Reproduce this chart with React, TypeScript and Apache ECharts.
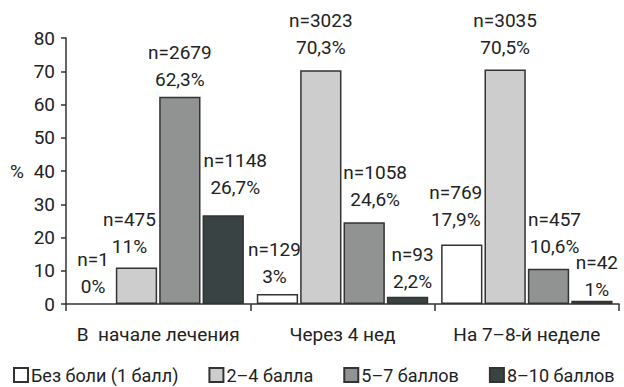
import React, { useEffect, useRef } from "react";
import * as echarts from "echarts";

const categories = ["В  начале лечения", "Через 4 нед", "На 7–8-й неделе"];
const seriesNames = ["Без боли (1 балл)", "2–4 балла", "5–7 баллов", "8–10 баллов"];
const percentValues = [
  [0, 3, 17.9],
  [11, 70.3, 70.5],
  [62.3, 24.6, 10.6],
  [26.7, 2.2, 1],
];
const countValues = [
  [1, 129, 769],
  [475, 3023, 3035],
  [2679, 1058, 457],
  [1148, 93, 42],
];
const percentLabels = [
  ["0%", "3%", "17,9%"],
  ["11%", "70,3%", "70,5%"],
  ["62,3%", "24,6%", "10,6%"],
  ["26,7%", "2,2%", "1%"],
];
const yTicks = [0, 10, 20, 30, 40, 50, 60, 70, 80];

const colors = ["#ffffff", "#cdcdcd", "#919292", "#394343"];
const labelOffsets = [
  [[0, 0], [-3, 0], [-6, -7]],
  [[-7, -3], [0, -5], [0, -5]],
  [[0, 0], [11, -5], [6, -5]],
  [[12, -10], [5, 2], [5, 6]],
];

const FONT = "Roboto, 'Liberation Sans', sans-serif";
const FS = 19;

export default function App() {
  const ref = useRef<HTMLDivElement>(null);
  useEffect(() => {
    if (!ref.current) return;
    const chart = echarts.init(ref.current, null, { renderer: "svg" });
    chart.setOption({
      animation: false,
      textStyle: { fontFamily: FONT, color: "#222" },
      grid: { left: 66, right: 5, top: 38, bottom: 83 },
      legend: {
        bottom: -2,
        left: 13,
        width: 611,
        padding: [5, 0, 5, 0],
        itemWidth: 14,
        itemHeight: 14,
        itemGap: 30,
        icon: "rect",
        textStyle: { fontFamily: FONT, fontSize: 18, color: "#222", padding: [0, 0, 0, -2] },
        data: seriesNames,
      },
      xAxis: {
        type: "category",
        data: categories,
        axisLine: { lineStyle: { color: "#333", width: 1.5 } },
        axisTick: { show: true, length: 7, lineStyle: { color: "#333", width: 1.5 } },
        axisLabel: { interval: 0, fontSize: FS, color: "#222", margin: 21, fontFamily: FONT },
      },
      yAxis: {
        type: "value",
        min: yTicks[0],
        max: yTicks[yTicks.length - 1],
        interval: 10,
        name: "%",
        nameLocation: "middle",
        nameRotate: 0,
        nameGap: 42,
        nameTextStyle: { fontSize: FS, color: "#222", fontFamily: FONT },
        splitLine: { show: false },
        axisLine: { show: true, lineStyle: { color: "#333", width: 1.5 } },
        axisTick: { show: true, length: 5, lineStyle: { color: "#333", width: 1.5 } },
        axisLabel: { fontSize: FS, color: "#222", margin: 11, fontFamily: FONT },
      },
      series: seriesNames.map((name, s) => ({
        name,
        type: "bar",
        barCategoryGap: "7%",
        barGap: "5%",
        itemStyle: { color: colors[s], borderColor: "#333", borderWidth: 1.5 },
        data: percentValues[s].map((v, i) => ({
          value: v,
          itemStyle: v === 0 ? { borderWidth: 0, borderColor: "rgba(0,0,0,0)" } : undefined,
          label: { show: true, offset: labelOffsets[s][i] },
        })),
        label: {
          show: true,
          position: "top",
          distance: 4,
          fontSize: FS,
          lineHeight: 27,
          color: "#222",
          fontFamily: FONT,
          align: "center",
          formatter: (p: any) =>
            `n=${countValues[s][p.dataIndex]}\n${percentLabels[s][p.dataIndex]}`,
        },
      })),
    });
    return () => chart.dispose();
  }, []);
  return (
    <div
      ref={ref}
      style={{ position: "absolute", left: 0, top: 0, width: 624, height: 387, background: "#fff" }}
    />
  );
}
